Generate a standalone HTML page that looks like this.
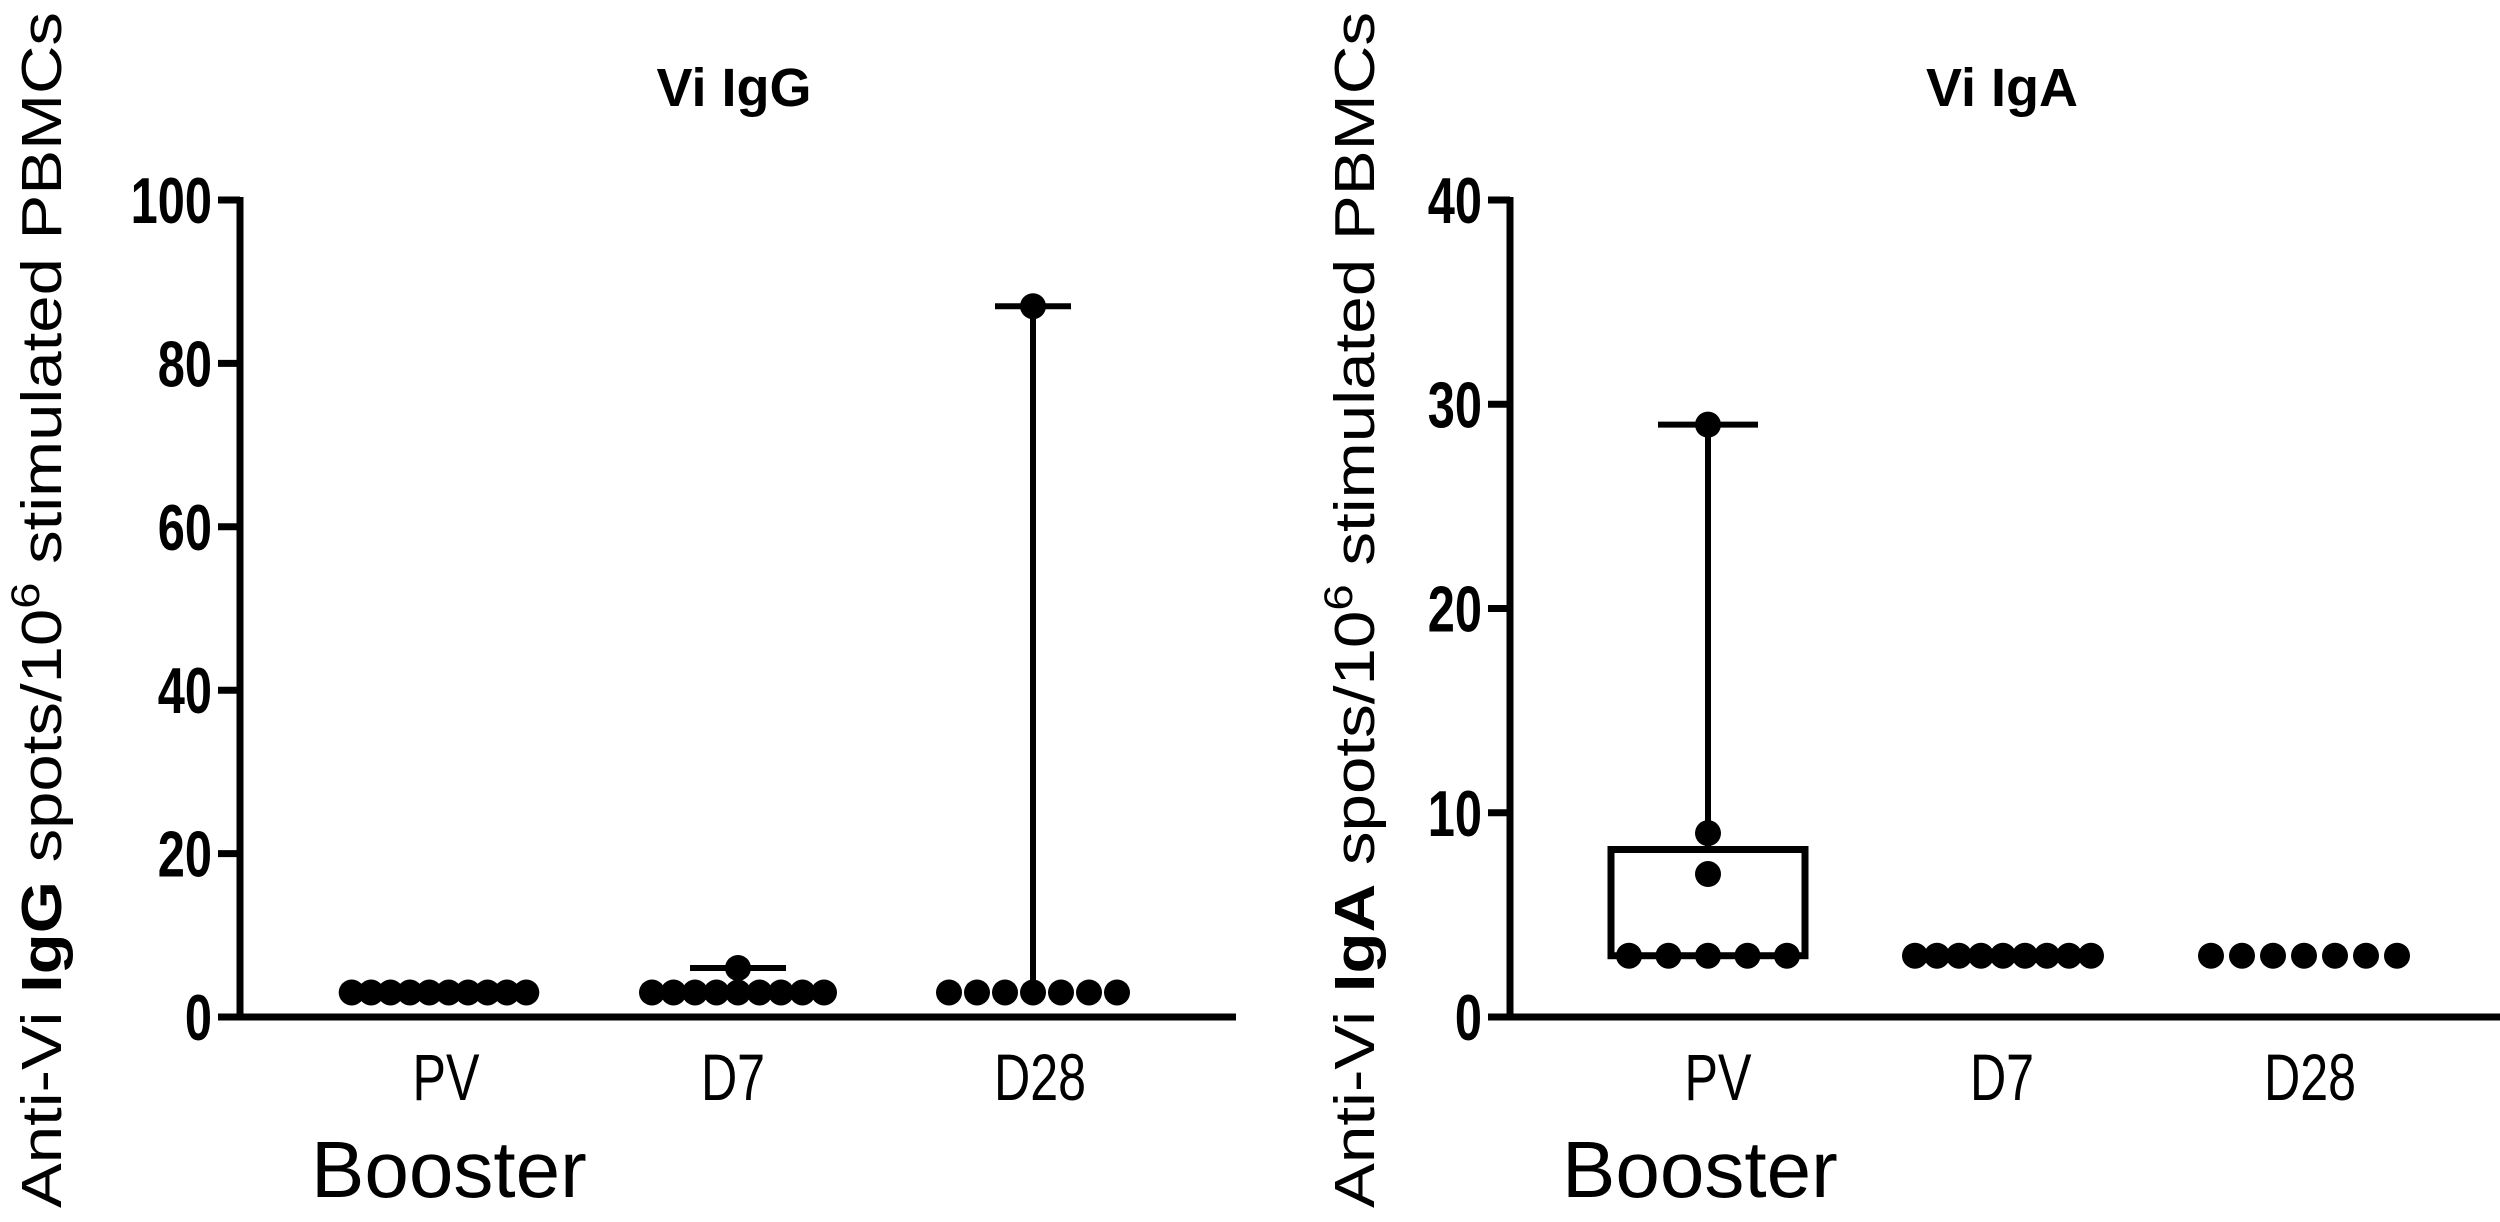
<!DOCTYPE html>
<html><head><meta charset="utf-8"><style>
html,body{margin:0;padding:0;background:#fff;}
svg{display:block;}
text{font-family:"Liberation Sans",sans-serif;fill:#000;}
</style></head><body>
<svg id="fig" width="2500" height="1222" viewBox="0 0 2500 1222" xmlns="http://www.w3.org/2000/svg"></svg>
<script>
// ---- data ----
const categories = ["PV", "D7", "D28"];
const iggValues = [
  [3,3,3,3,3,3,3,3,3,3],
  [3,3,3,3,3,3,3,3,3,6],
  [3,3,3,3,3,3,3,87]
];
const iggMin = [3, 3, 3];
const iggMax = [3, 6, 87];
const iggQ1 = [3, 3, 3];
const iggQ3 = [3, 3, 3];
const iggTicks = [0, 20, 40, 60, 80, 100];
const igaValues = [
  [3,3,3,3,3,7,9,29],
  [3,3,3,3,3,3,3,3,3],
  [3,3,3,3,3,3,3]
];
const igaMin = [3, 3, 3];
const igaMax = [29, 3, 3];
const igaQ1 = [3, 3, 3];
const igaQ3 = [8.2, 3, 3];
const igaTicks = [0, 10, 20, 30, 40];

const NS = "http://www.w3.org/2000/svg";
const svg = document.getElementById("fig");
function mk(tag, attrs, parent) {
  const e = document.createElementNS(NS, tag);
  for (const k in attrs) e.setAttribute(k, attrs[k]);
  (parent || svg).appendChild(e);
  return e;
}

function panel(opt) {
  const g = mk("g", {});
  
  
  const y0 = 1017, yTop = 200;
  const yMax = opt.ticks[opt.ticks.length - 1];
  const ys = v => y0 - (v / yMax) * (y0 - yTop);

  const t = mk("text", {x: opt.titleX, y: 106, "font-size": 54, "font-weight": "bold", "text-anchor": "middle"}, g);
  t.textContent = opt.title;
  
  

  const yt = mk("text", {transform: `translate(${opt.yTitleX},1208) rotate(-90)`, "font-size": 57, textLength: 1196, lengthAdjust: "spacingAndGlyphs"}, g);
  
  
  const parts = [["Anti-Vi ", false], [opt.iso, true], [" spots/10", false]];
  parts.forEach(p => { const s = mk("tspan", p[1] ? {"font-weight": "bold"} : {}, yt); s.textContent = p[0]; });
  const sup = mk("tspan", {"baseline-shift": "super", "font-size": 40}, yt); sup.textContent = "6";
  const rest = mk("tspan", {}, yt); rest.textContent = " stimulated PBMCs";

  const ax = opt.axisX;
  const yAxis = mk("line", {x1: ax, y1: yTop - 3, x2: ax, y2: y0 + 3, stroke: "#000", "stroke-width": 7}, g);
  
  
  const xAxis = mk("line", {x1: ax - 22, y1: y0, x2: opt.axisEnd, y2: y0, stroke: "#000", "stroke-width": 7}, g);
  
  

  opt.ticks.forEach(v => {
    const y = ys(v);
    const tk = mk("line", {x1: ax - 22, y1: y, x2: ax, y2: y, stroke: "#000", "stroke-width": 7}, g);
    
    
    const lb = mk("text", {transform: `translate(${ax - 28},${y + 23}) scale(0.75,1)`, "font-size": 65, "font-weight": "bold", "text-anchor": "end"}, g);
    lb.textContent = v;
    
    
  });

  categories.forEach((c, i) => {
    const cx = opt.centers[i];
    const lb = mk("text", {transform: `translate(${opt.labelX[i]},1100) scale(0.76,1)`, "font-size": 66, "text-anchor": "middle"}, g);
    lb.textContent = c;
    
    

    if (opt.q3[i] > opt.q1[i]) {
      const bx = mk("rect", {x: cx - opt.boxW / 2, y: ys(opt.q3[i]), width: opt.boxW, height: ys(opt.q1[i]) - ys(opt.q3[i]), fill: "none", stroke: "#000", "stroke-width": 7}, g);
      
      
    }
    if (opt.max[i] > opt.q3[i]) {
      const w = mk("line", {x1: cx, y1: ys(opt.q3[i]), x2: cx, y2: ys(opt.max[i]), stroke: "#000", "stroke-width": 6}, g);
      
      
      const cap = mk("line", {x1: cx - opt.capW[i] / 2, y1: ys(opt.max[i]), x2: cx + opt.capW[i] / 2, y2: ys(opt.max[i]), stroke: "#000", "stroke-width": 6}, g);
      
      
    }
    const counts = {};
    opt.values[i].forEach(v => counts[v] = (counts[v] || 0) + 1);
    const seen = {};
    opt.values[i].forEach(v => {
      const n = counts[v];
      const k = (seen[v] = (seen[v] || 0) + 1) - 1;
      const x = cx + (k - (n - 1) / 2) * opt.spacing[i];
      const d = mk("circle", {cx: x, cy: ys(v), r: 13, fill: "#000"}, g);
      
      
    });
  });

  const b = mk("text", {x: opt.boosterX, y: 1197, "font-size": 80}, g);
  b.textContent = "Booster";
  
  
}

panel({name: "igg-panel", title: "Vi IgG", iso: "IgG", titleX: 734, yTitleX: 61, axisX: 240, axisEnd: 1236,
  ticks: iggTicks, centers: [439, 738, 1033], labelX: [446, 733, 1040], values: iggValues,
  min: iggMin, max: iggMax, q1: iggQ1, q3: iggQ3, boxW: 0, capW: [0, 96, 76], spacing: [19.4, 21.5, 28], boosterX: 311});
panel({name: "iga-panel", title: "Vi IgA", iso: "IgA", titleX: 2002, yTitleX: 1374, axisX: 1510, axisEnd: 2500,
  ticks: igaTicks, centers: [1708, 2003, 2304], labelX: [1718, 2002, 2310], values: igaValues,
  min: igaMin, max: igaMax, q1: igaQ1, q3: igaQ3, boxW: 194, capW: [100, 0, 0], spacing: [39.5, 22, 31], boosterX: 1562});
</script>
</body></html>
